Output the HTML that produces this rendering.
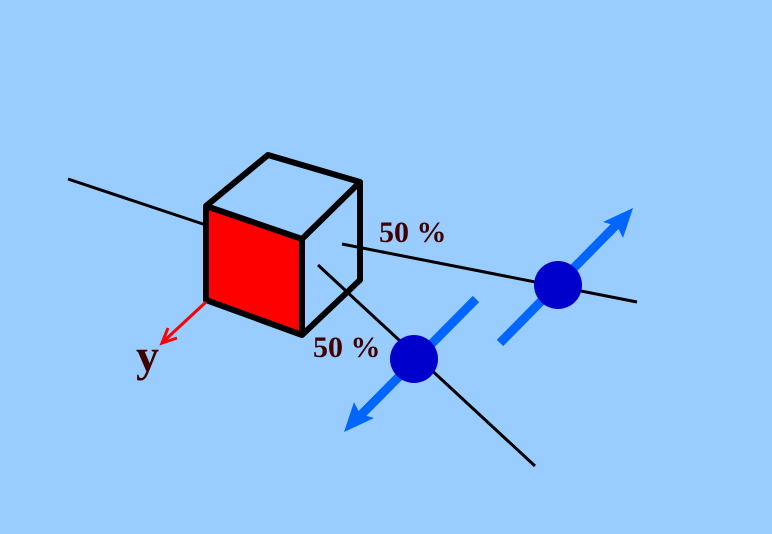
<html><body style="margin:0;background:#99ccff">
<svg width="772" height="534" viewBox="0 0 772 534" xmlns="http://www.w3.org/2000/svg">
<rect width="772" height="534" fill="#99ccff"/>
<g stroke="#000" stroke-width="3" fill="none">
<line x1="68" y1="179" x2="206" y2="225"/>
<line x1="342" y1="244" x2="637" y2="302"/>
<line x1="318" y1="265" x2="535" y2="466"/>
</g>
<polygon points="206,206 302,239 302,335 206,300" fill="#ff0000"/>
<g stroke="#000" stroke-width="6" fill="none" stroke-linejoin="round">
<polygon points="206,206 302,239 302,335 206,300"/>
<polyline points="206,206 268,155 360,182 302,239"/>
<polyline points="360,182 360,280 302,335"/>
</g>
<g stroke="#0066ff" stroke-width="9" fill="none">
<line x1="476" y1="299" x2="352" y2="424"/>
<line x1="500" y1="343" x2="625" y2="216"/>
</g>
<polygon points="344,432 354,402 360,414 374,418" fill="#0066ff"/>
<polygon points="633,208 623,238 617,226 603,222" fill="#0066ff"/>
<circle cx="414" cy="359" r="24" fill="#0000cc"/>
<circle cx="558" cy="285" r="24" fill="#0000cc"/>
<g stroke="#ff0000" stroke-width="3" fill="none">
<line x1="206" y1="302" x2="164" y2="341"/>
<polyline points="168,328 162,343 177,338"/>
</g>
<g font-family="Liberation Serif, serif" font-weight="bold" fill="#400000">
<text x="136" y="371" font-size="46">y</text>
<text x="379" y="242" font-size="30">50 %</text>
<text x="313" y="357" font-size="30">50 %</text>
</g>
</svg>
</body></html>
